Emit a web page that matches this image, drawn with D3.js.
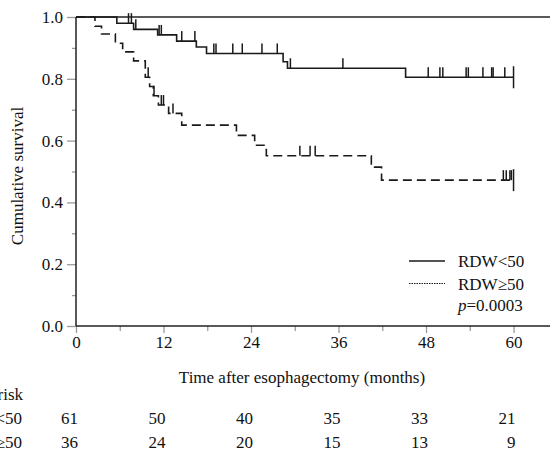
<!DOCTYPE html>
<html>
<head>
<meta charset="utf-8">
<script src="https://cdn.jsdelivr.net/npm/d3@7"></script>
<style>
html,body{margin:0;padding:0;background:#fff;}
svg{display:block;}
svg text{font-family:"Liberation Serif","Times New Roman",serif !important;}
</style>
</head>
<body>
<svg id="chart" width="550" height="450"></svg>
<script>
// ---- data ----
const groups = ["RDW<50", "RDW\u226550"];
const lowTimes = [0, 5.6, 7.9, 11.2, 13.8, 16.5, 17.9, 28.4, 29.0, 45.2];
const lowSurv  = [1.0, 0.98, 0.96, 0.942, 0.922, 0.903, 0.882, 0.855, 0.834, 0.805];
const lowCensor = [7.2, 7.6, 8.2, 11.4, 11.7, 14.5, 16.3, 18.9, 19.2, 21.5, 22.8, 25.5, 27.6, 29.4, 36.6, 48.3, 49.9, 50.3, 53.5, 53.8, 55.8, 57.0, 57.2, 58.8];
const highTimes = [0, 2.6, 3.5, 5.4, 6.4, 7.9, 9.5, 10.1, 10.6, 11.3, 12.7, 14.5, 22.0, 24.5, 26.1, 40.5, 41.9];
const highSurv  = [1.0, 0.97, 0.945, 0.915, 0.887, 0.858, 0.805, 0.775, 0.745, 0.715, 0.688, 0.65, 0.617, 0.585, 0.551, 0.514, 0.472];
const highCensor = [9.9, 10.7, 11.7, 12.0, 13.3, 30.7, 32.1, 32.8, 58.6, 59.0, 59.5, 59.7];
const endTime = 60;
const xTicks = [0, 12, 24, 36, 48, 60];
const xMinorTicks = [6, 18, 30, 42, 54];
const yTicks = [0, 0.2, 0.4, 0.6, 0.8, 1.0];
const yMinorTicks = [0.1, 0.3, 0.5, 0.7, 0.9];
const riskTimes = [0, 12, 24, 36, 48, 60];
const riskLow  = [61, 50, 40, 35, 33, 21];
const riskHigh = [36, 24, 20, 15, 13, 9];
const pText = "=0.0003";

// ---- layout ----
const svg = d3.select("#chart");
const x = d3.scaleLinear().domain([0, 65]).range([76, 550]);
const y = d3.scaleLinear().domain([0, 1]).range([326, 17]);
const FONT = 17;

// ticks
const minorX = svg.append("g").attr("transform", `translate(0,${y(0)})`)
  .call(d3.axisBottom(x).tickValues(xMinorTicks).tickSize(5).tickSizeOuter(0).tickFormat(""));
const majorX = svg.append("g").attr("transform", `translate(0,${y(0)})`)
  .call(d3.axisBottom(x).tickValues(xTicks).tickSize(7).tickSizeOuter(0).tickPadding(3).tickFormat(d3.format("d")));
const minorY = svg.append("g").attr("transform", `translate(${x(0)},0)`)
  .call(d3.axisLeft(y).tickValues(yMinorTicks).tickSize(4).tickSizeOuter(0).tickFormat(""));
const majorY = svg.append("g").attr("transform", `translate(${x(0)},0)`)
  .call(d3.axisLeft(y).tickValues(yTicks).tickSize(9).tickSizeOuter(0).tickPadding(4).tickFormat(d3.format(".1f")));
[minorX, majorX, minorY, majorY].forEach(g => {
  g.attr("font-family", null).attr("font-size", null);
  g.select(".domain").remove();
  g.selectAll(".tick line").attr("stroke", "#9a9a9a").attr("stroke-width", 1.3);
  g.selectAll("text").style("font-size", FONT + "px").attr("fill", "#111");
});

// axis lines & top frame
svg.append("line").attr("x1", x(0)).attr("x2", x(65)).attr("y1", y(0)).attr("y2", y(0))
  .attr("stroke", "#222").attr("stroke-width", 1.5);
svg.append("line").attr("x1", x(0)).attr("x2", x(0)).attr("y1", y(0)).attr("y2", y(1))
  .attr("stroke", "#222").attr("stroke-width", 1.5);
svg.append("line").attr("x1", x(0)).attr("x2", x(65)).attr("y1", y(1)).attr("y2", y(1))
  .attr("stroke", "#222").attr("stroke-width", 1.5);

// curves
function stepData(times, surv) {
  const pts = times.map((t, i) => [t, surv[i]]);
  pts.push([endTime, surv[surv.length - 1]]);
  return pts;
}
function survAt(times, surv, t) {
  let v = surv[0];
  for (let i = 0; i < times.length; i++) if (times[i] <= t) v = surv[i];
  return v;
}
const line = d3.line().x(d => x(d[0])).y(d => y(d[1])).curve(d3.curveStepAfter);
const series = [
  {times: lowTimes, surv: lowSurv, censor: lowCensor, dash: null},
  {times: highTimes, surv: highSurv, censor: highCensor, dash: "9,5"}
];
series.forEach(s => {
  svg.append("path").datum(stepData(s.times, s.surv))
    .attr("d", line).attr("fill", "none").attr("stroke", "#1a1a1a")
    .attr("stroke-width", 1.6).attr("stroke-dasharray", s.dash);
  svg.append("g").selectAll("line").data(s.censor).join("line")
    .attr("x1", d => x(d)).attr("x2", d => x(d))
    .attr("y1", d => y(survAt(s.times, s.surv, d)))
    .attr("y2", d => y(survAt(s.times, s.surv, d)) - 10)
    .attr("stroke", "#1a1a1a").attr("stroke-width", 1.5);
  const ve = s.surv[s.surv.length - 1];
  svg.append("line").attr("x1", x(endTime)).attr("x2", x(endTime))
    .attr("y1", y(ve) - 11).attr("y2", y(ve) + 11)
    .attr("stroke", "#1a1a1a").attr("stroke-width", 1.5);
});

// legend
const lg = svg.append("g");
lg.append("line").attr("x1", 409).attr("x2", 445).attr("y1", 261).attr("y2", 261)
  .attr("stroke", "#1a1a1a").attr("stroke-width", 1.3);
lg.append("line").attr("x1", 409).attr("x2", 445).attr("y1", 283.5).attr("y2", 283.5)
  .attr("stroke", "#1a1a1a").attr("stroke-width", 1).attr("stroke-dasharray", "1.5,1");
lg.append("text").attr("x", 458).attr("y", 267).style("font-size", FONT + "px").attr("fill", "#111").text(groups[0]);
lg.append("text").attr("x", 458).attr("y", 290).style("font-size", FONT + "px").attr("fill", "#111").text(groups[1]);
const pt = lg.append("text").attr("x", 458).attr("y", 311).style("font-size", FONT + "px").attr("fill", "#111");
pt.append("tspan").attr("font-style", "italic").text("p");
pt.append("tspan").text(pText);

// axis titles
svg.append("text").attr("transform", "translate(23,176) rotate(-90)")
  .attr("text-anchor", "middle").style("font-size", FONT + "px").attr("fill", "#111").text("Cumulative survival");
svg.append("text").attr("x", 302).attr("y", 383).attr("text-anchor", "middle")
  .style("font-size", FONT + "px").attr("fill", "#111").text("Time after esophagectomy (months)");

// risk table
svg.append("text").attr("x", 23).attr("y", 400).attr("text-anchor", "end")
  .style("font-size", FONT + "px").attr("fill", "#111").text("No. at risk");
const rows = [{label: groups[0], vals: riskLow, yy: 424}, {label: groups[1], vals: riskHigh, yy: 448}];
rows.forEach(r => {
  svg.append("text").attr("x", 22).attr("y", r.yy).attr("text-anchor", "end")
    .style("font-size", FONT + "px").attr("fill", "#111").text(r.label);
  svg.append("g").selectAll("text").data(r.vals).join("text")
    .attr("x", (d, i) => x(riskTimes[i]) + 2).attr("y", r.yy)
    .attr("text-anchor", "end").style("font-size", FONT + "px").attr("fill", "#111").text(d => d);
});
</script>
</body>
</html>
